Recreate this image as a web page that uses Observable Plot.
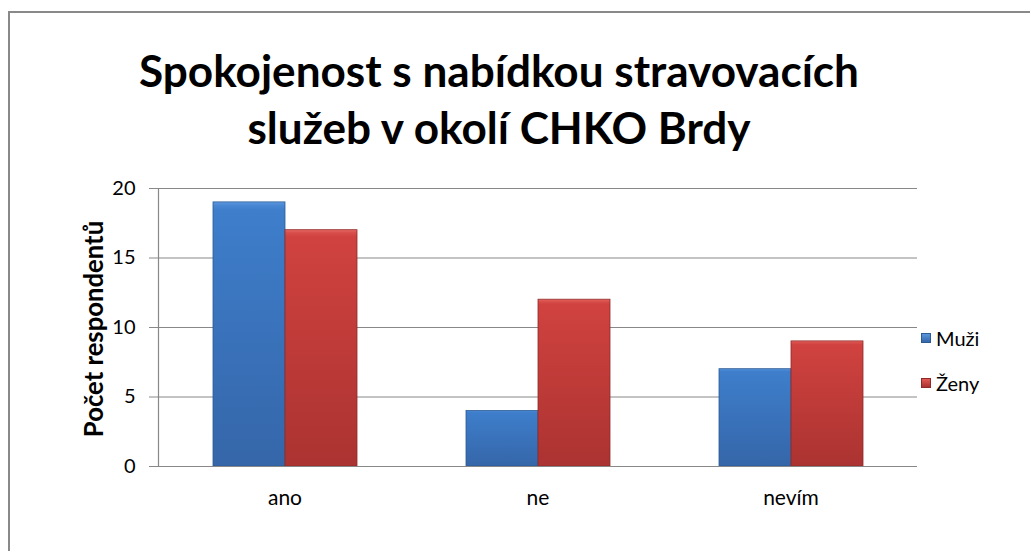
<!DOCTYPE html>
<html><head><meta charset="utf-8">
<script src="https://cdn.jsdelivr.net/npm/d3@7"></script>
<script src="https://cdn.jsdelivr.net/npm/@observablehq/plot@0.6"></script>
<style>
html,body{margin:0;padding:0;background:#fff;overflow:hidden;}
#wrap{position:relative;width:1030px;height:551px;font-family:Lato,"Open Sans",sans-serif;color:#000;}
#border{position:absolute;left:8px;top:11px;width:1100px;height:600px;border:2px solid #898989;box-sizing:border-box;}
#title{position:absolute;left:0;top:41px;width:998px;text-align:center;font-weight:700;line-height:57px;white-space:nowrap;}
#ylabel{position:absolute;left:93px;top:329px;transform:translate(-50%,-50%) rotate(-90deg);font-weight:700;white-space:nowrap;}
#chart{position:absolute;left:0;top:170px;}
#chart svg text{font-family:Lato,"Open Sans",sans-serif;fill:#000;}
#legend{position:absolute;left:921px;top:0;font-size:20px;}
.li{position:absolute;left:0;white-space:nowrap;display:flex;align-items:center;height:24px;}
.sw{width:10px;height:10px;margin-right:5px;box-sizing:border-box;}
</style>
</head><body>
<div id="wrap">
  <div id="border"></div>
  <div id="title"></div>
  <div id="ylabel"></div>
  <div id="chart"></div>
  <div id="legend"></div>
</div>
<script>
// ---- data ----
const titleLines = ["Spokojenost s nabídkou stravovacích", "služeb v okolí CHKO Brdy"];
const yLabel = "Počet respondentů";
const categories = ["ano", "ne", "nevím"];
const series = ["Muži", "Ženy"];
const muzi = [19, 4, 7];
const zeny = [17, 12, 9];
const yTicks = [0, 5, 10, 15, 20];

const seriesValues = {"Muži": muzi, "Ženy": zeny};
const table = [];
series.forEach(s => categories.forEach((c, i) => table.push({category: c, series: s, value: seriesValues[s][i]})));

// ---- text fitting helpers ----
const ctx = document.createElement("canvas").getContext("2d");
function fitSize(text, weight, targetWidth) {
  ctx.font = `${weight} 100px Lato`;
  return 100 * targetWidth / ctx.measureText(text).width;
}

const title = document.getElementById("title");
title.style.fontSize = fitSize(titleLines[0], 700, 720).toFixed(1) + "px";
title.innerHTML = titleLines.map(t => `<div>${t}</div>`).join("");

const yl = document.getElementById("ylabel");
yl.textContent = yLabel;
yl.style.fontSize = fitSize(yLabel, 700, 216).toFixed(1) + "px";

const fillIds = {"Muži": "url(#gradBlue)", "Ženy": "url(#gradRed)"};
const strokes = {"Muži": "#2c5a93", "Ženy": "#8f2a28"};

const plot = Plot.plot({
  width: 1030,
  height: 381,
  marginLeft: 157,
  marginRight: 113,
  marginTop: 18,
  marginBottom: 85,
  style: {fontFamily: "Lato, 'Open Sans', sans-serif", fontSize: "20px", color: "#000", background: "transparent"},
  fx: {domain: categories, padding: 0, label: null},
  x: {domain: series, paddingInner: 0, paddingOuter: 0.735, axis: null},
  y: {domain: [0, 20], axis: null},
  marks: [
    Plot.ruleY(yTicks.filter(d => d > 0), {stroke: "#888888", strokeWidth: 1}),
    ...series.map(s => Plot.barY(table.filter(d => d.series === s), {
      fx: "category", x: "series", y: "value",
      fill: fillIds[s], stroke: strokes[s], strokeWidth: 0.8
    })),
    Plot.ruleY([0], {stroke: "#888888", strokeWidth: 1.2}),
    Plot.frame({anchor: "left", facetAnchor: "left", stroke: "#888888", strokeWidth: 1.2}),
    Plot.axisY({ticks: yTicks, tickSize: 9, tickPadding: 14, stroke: "#888888", fontSize: 20, label: null}),
    Plot.axisFx({anchor: "bottom", tickSize: 0, tickPadding: 24, fontSize: 21, label: null})
  ]
});

// gradients (bevel-like shading)
const svg = d3.select(plot.tagName.toLowerCase() === "svg" ? plot : plot.querySelector("svg"));
const defs = svg.insert("defs", ":first-child");
function grad(id, stops) {
  const g = defs.append("linearGradient").attr("id", id).attr("x1", 0).attr("y1", 0).attr("x2", 0).attr("y2", 1);
  stops.forEach(([o, c]) => g.append("stop").attr("offset", o).attr("stop-color", c));
}
grad("gradBlue", [[0, "#5d9ae0"], [0.012, "#4a88d4"], [0.03, "#3e7ecb"], [1, "#3566a9"]]);
grad("gradRed", [[0, "#e86a66"], [0.012, "#d9504c"], [0.03, "#d0423f"], [1, "#ab3331"]]);
document.getElementById("chart").appendChild(plot);

// legend
const legend = document.getElementById("legend");
const legendY = {"Muži": 326, "Ženy": 371};
const swatch = {"Muži": "linear-gradient(#5a95dc,#3566a9)", "Ženy": "linear-gradient(#e25a56,#a93130)"};
series.forEach(s => {
  const d = document.createElement("div");
  d.className = "li";
  d.style.top = legendY[s] + "px";
  d.innerHTML = `<span class="sw" style="background:${swatch[s]};border:1px solid ${strokes[s]}"></span><span>${s}</span>`;
  legend.appendChild(d);
});
</script>
</body></html>
